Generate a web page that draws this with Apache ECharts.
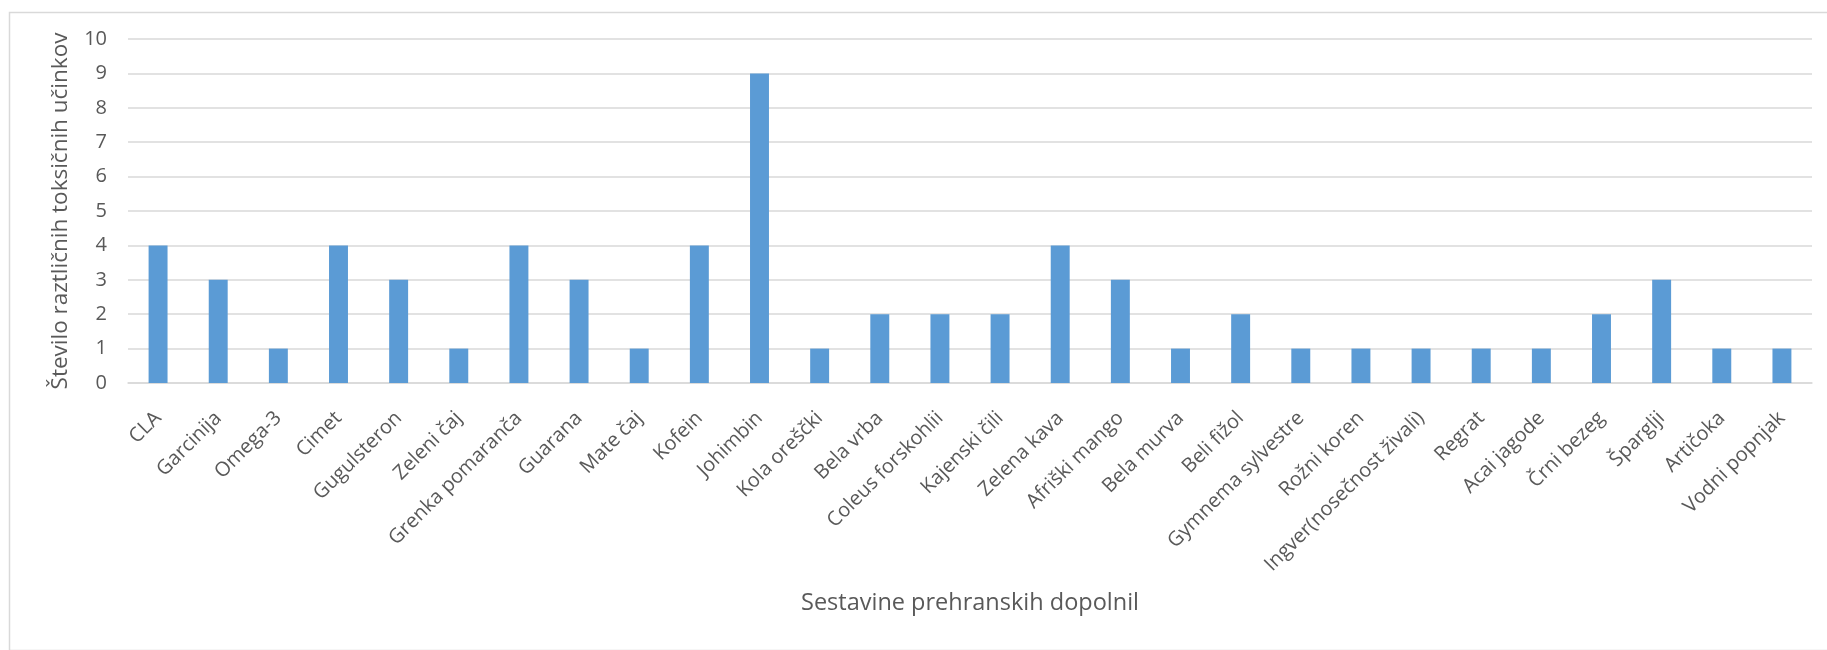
<!DOCTYPE html>
<html>
<head>
<meta charset="utf-8">
<script src="https://cdn.jsdelivr.net/npm/echarts@6/dist/echarts.min.js"></script>
<style>
  html, body { margin: 0; padding: 0; background: #ffffff; }
  #chart { width: 1827px; height: 650px; }
</style>
</head>
<body>
<div id="chart"></div>
<script>
// Ingredients of dietary supplements
const categories = [
  'CLA', 'Garcinija', 'Omega-3', 'Cimet', 'Gugulsteron', 'Zeleni čaj',
  'Grenka pomaranča', 'Guarana', 'Mate čaj', 'Kofein', 'Johimbin',
  'Kola oreščki', 'Bela vrba', 'Coleus forskohlii', 'Kajenski čili',
  'Zelena kava', 'Afriški mango', 'Bela murva', 'Beli fižol',
  'Gymnema sylvestre', 'Rožni koren', 'Ingver(nosečnost živali)', 'Regrat',
  'Acai jagode', 'Črni bezeg', 'Šparglji', 'Artičoka', 'Vodni popnjak'
];

// Number of distinct toxic effects per ingredient
const toxicEffects = [
  4, 3, 1, 4, 3, 1,
  4, 3, 1, 4, 9,
  1, 2, 2, 2,
  4, 3, 1, 2,
  1, 1, 1, 1,
  1, 2, 3, 1, 1
];

const yTicks = { min: 0, max: 10, interval: 1 };

const xAxisTitle = 'Sestavine prehranskih dopolnil';
const yAxisTitle = 'Število raztličnih toksičnih učinkov';

const textColor = '#595959';
const gridColor = '#d9d9d9';
const fontFamily = '"Open Sans", "Noto Sans", sans-serif';

const chart = echarts.init(document.getElementById('chart'), null, { renderer: 'canvas' });

chart.setOption({
  animation: false,
  backgroundColor: '#ffffff',
  textStyle: { fontFamily: fontFamily, color: textColor },
  graphic: [{
    type: 'rect',
    left: 7,
    top: 10,
    shape: { width: 1830, height: 638 },
    style: { fill: 'none', stroke: gridColor, lineWidth: 1.5 },
    silent: true
  }],
  grid: { left: 128, right: 15, top: 39, bottom: 267 },
  xAxis: {
    type: 'category',
    data: categories,
    name: xAxisTitle,
    nameLocation: 'middle',
    nameGap: 208,
    nameTextStyle: { fontSize: 23.5, color: textColor, fontFamily: fontFamily },
    axisLine: { lineStyle: { color: gridColor, width: 1.5 } },
    axisTick: { show: false },
    axisLabel: {
      interval: 0,
      rotate: 45,
      margin: 32,
      fontSize: 20,
      color: textColor,
      fontFamily: fontFamily
    }
  },
  yAxis: {
    type: 'value',
    min: yTicks.min,
    max: yTicks.max,
    interval: yTicks.interval,
    name: yAxisTitle,
    nameLocation: 'middle',
    nameGap: 56,
    nameRotate: 90,
    nameTextStyle: { fontSize: 22.5, color: textColor, fontFamily: fontFamily },
    axisLine: { show: false },
    axisTick: { show: false },
    axisLabel: { fontSize: 20, color: textColor, margin: 21, fontFamily: fontFamily },
    splitLine: { lineStyle: { color: gridColor, width: 1.5 } }
  },
  series: [{
    type: 'bar',
    data: toxicEffects,
    barWidth: '31.5%',
    itemStyle: { color: '#5b9bd5' }
  }]
});
</script>
</body>
</html>
